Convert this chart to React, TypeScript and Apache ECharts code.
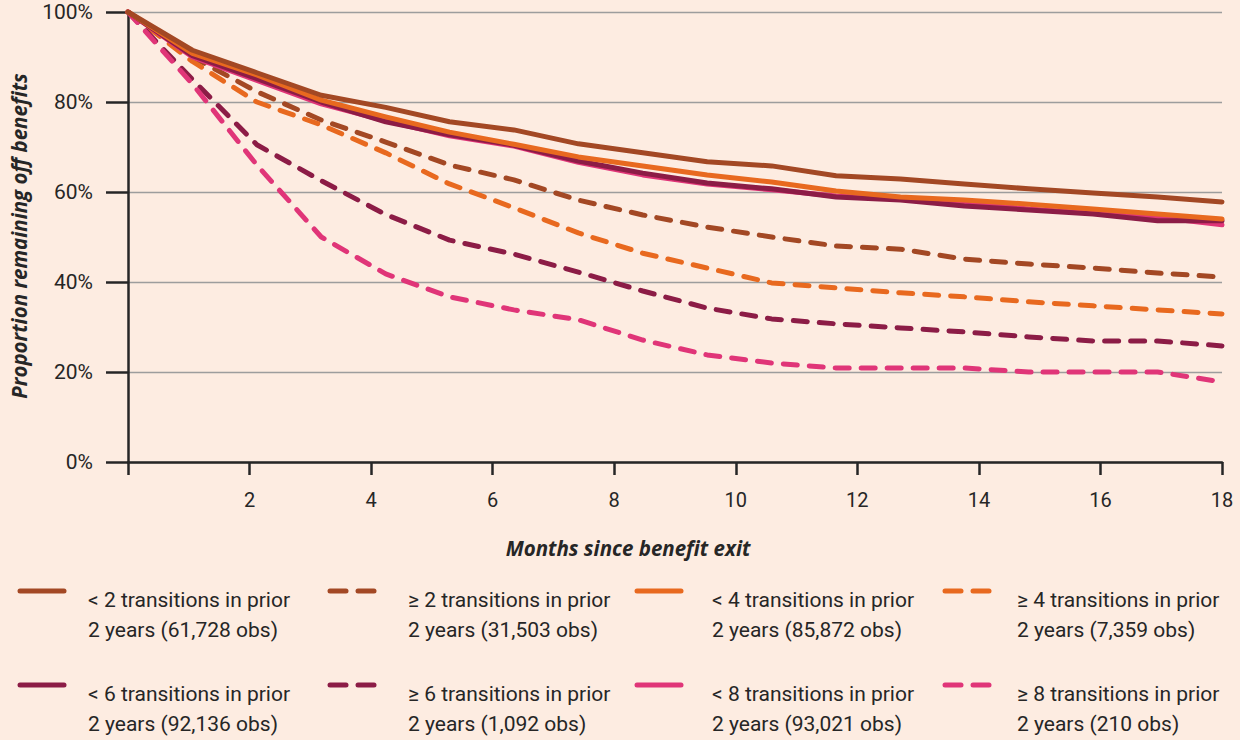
import { useEffect, useRef } from "react";
import * as echarts from "echarts";

const months = [0, 1.06, 2.12, 3.18, 4.24, 5.29, 6.35, 7.41, 8.47, 9.53, 10.59, 11.65, 12.71, 13.76, 14.82, 15.88, 16.94, 18];

const lt2 = [100, 91.5, 86.5, 81.5, 78.8, 75.6, 73.8, 70.7, 68.7, 66.7, 65.8, 63.6, 62.9, 61.8, 60.7, 59.8, 58.9, 57.8];
const ge2 = [100, 90, 82.3, 76, 71.1, 66, 62.7, 58.2, 54.9, 52.2, 50, 48, 47.3, 45.1, 44, 43.1, 42, 41.1];
const lt4 = [100, 90.8, 86, 80.4, 76.7, 73.3, 70.6, 67.8, 65.8, 63.8, 62.2, 60.2, 58.9, 58.2, 57.3, 56.2, 55.1, 54];
const ge4 = [100, 89, 80, 74.9, 68.7, 61.8, 56.5, 50.9, 46.4, 43.1, 39.8, 38.7, 37.6, 36.7, 35.6, 34.7, 33.8, 32.9];
const lt6 = [100, 90.3, 85.2, 80, 75.6, 72.7, 70.4, 66.9, 64.2, 62, 60.7, 58.9, 58.2, 56.9, 56, 55.1, 53.6, 53.6];
const ge6 = [100, 85, 70.5, 62.5, 55, 49.3, 46.2, 42.2, 38, 34.2, 31.8, 30.7, 29.8, 28.9, 27.8, 26.9, 26.9, 25.8];
const lt8 = [100, 90, 84.8, 79.6, 75.8, 72.5, 70.2, 66.6, 63.8, 61.8, 60.5, 59.1, 58.5, 57.6, 56.2, 55.3, 54.4, 52.7];
const ge8 = [100, 84, 66, 50, 41.8, 36.7, 33.8, 31.6, 27.1, 23.8, 22, 20.9, 20.9, 20.9, 20, 20, 20, 17.8];

const yTicks = [0, 20, 40, 60, 80, 100];
const xTicks = [0, 2, 4, 6, 8, 10, 12, 14, 16, 18];

const BROWN = "#a34824";
const ORANGE = "#e8691f";
const MAROON = "#8c1c46";
const PINK = "#e03578";
const INK = "#262626";
const BG = "#fdece1";

const defs = [
  { name: "< 2 transitions in prior", sub: "2 years (61,728 obs)", data: lt2, color: BROWN, dashed: false, z: 8 },
  { name: "≥ 2 transitions in prior", sub: "2 years (31,503 obs)", data: ge2, color: BROWN, dashed: true, z: 4 },
  { name: "< 4 transitions in prior", sub: "2 years (85,872 obs)", data: lt4, color: ORANGE, dashed: false, z: 7 },
  { name: "≥ 4 transitions in prior", sub: "2 years (7,359 obs)", data: ge4, color: ORANGE, dashed: true, z: 4 },
  { name: "< 6 transitions in prior", sub: "2 years (92,136 obs)", data: lt6, color: MAROON, dashed: false, z: 6 },
  { name: "≥ 6 transitions in prior", sub: "2 years (1,092 obs)", data: ge6, color: MAROON, dashed: true, z: 4 },
  { name: "< 8 transitions in prior", sub: "2 years (93,021 obs)", data: lt8, color: PINK, dashed: false, z: 5 },
  { name: "≥ 8 transitions in prior", sub: "2 years (210 obs)", data: ge8, color: PINK, dashed: true, z: 4 },
];

const FONT = "Roboto, 'Noto Sans', sans-serif";
const TITLE_FONT = "'Open Sans', 'Noto Sans', sans-serif";

export default function App() {
  const ref = useRef<HTMLDivElement>(null);

  useEffect(() => {
    if (!ref.current) return;
    const chart = echarts.init(ref.current, undefined, { renderer: "svg" });

    const iconX = [18, 328, 635, 943];
    const textX = [88, 408, 712, 1017];
    const iconY = [591, 685];
    const textY = [585, 679];

    const legend: any[] = [];
    defs.forEach((d, i) => {
      const col = i % 4;
      const row = Math.floor(i / 4);
      const x0 = iconX[col];
      const y0 = iconY[row];
      const lineStyle = { stroke: d.color, lineWidth: 5, lineCap: "round" };
      if (d.dashed) {
        legend.push({ type: "line", shape: { x1: x0 + 2, y1: y0, x2: x0 + 18, y2: y0 }, style: lineStyle });
        legend.push({ type: "line", shape: { x1: x0 + 30, y1: y0, x2: x0 + 46, y2: y0 }, style: lineStyle });
      } else {
        legend.push({ type: "line", shape: { x1: x0 + 2, y1: y0, x2: x0 + 46, y2: y0 }, style: lineStyle });
      }
      legend.push({
        type: "text",
        x: textX[col],
        y: textY[row],
        style: {
          text: d.name + "\n" + d.sub,
          fontSize: 21,
          fontFamily: FONT,
          lineHeight: 30,
          fill: INK,
          verticalAlign: "top",
          align: "left",
        },
      });
    });

    chart.setOption({
      animation: false,
      backgroundColor: BG,
      grid: { left: 128, right: 18, top: 12, bottom: 278, containLabel: false },
      xAxis: {
        type: "value",
        min: xTicks[0],
        max: xTicks[xTicks.length - 1],
        interval: 2,
        axisLine: { show: true, lineStyle: { color: INK, width: 2.5 } },
        axisTick: { show: true, length: 13, lineStyle: { color: INK, width: 2.5 } },
        axisLabel: {
          margin: 28,
          fontSize: 20,
          fontFamily: FONT,
          color: INK,
          formatter: (v: number) => (v === 0 ? "" : String(v)),
        },
        splitLine: { show: false },
      },
      yAxis: {
        type: "value",
        min: yTicks[0],
        max: yTicks[yTicks.length - 1],
        interval: 20,
        axisLine: { show: true, lineStyle: { color: INK, width: 2.5 } },
        axisTick: { show: true, length: 22, lineStyle: { color: INK, width: 2.5 } },
        axisLabel: { margin: 35, fontSize: 21, fontFamily: FONT, color: INK, formatter: "{value}%" },
        splitLine: { show: true, lineStyle: { color: "#9d9d9d", width: 1.3 } },
      },
      series: defs.map((d) => ({
        name: d.name,
        type: "line",
        data: d.data.map((v, i) => [months[i], v]),
        showSymbol: false,
        symbol: "none",
        z: d.z,
        lineStyle: {
          color: d.color,
          width: 5,
          type: d.dashed ? [14, 12] : "solid",
          cap: "round",
          join: "round",
        },
      })),
      graphic: [
        {
          type: "text",
          x: 628,
          y: 548,
          style: {
            text: "Months since benefit exit",
            fontSize: 20.5,
            fontWeight: "bold",
            fontStyle: "italic",
            fontFamily: TITLE_FONT,
            fill: INK,
            align: "center",
            verticalAlign: "middle",
          },
        },
        {
          type: "text",
          x: 19,
          y: 236,
          rotation: Math.PI / 2,
          style: {
            text: "Proportion remaining off benefits",
            fontSize: 20.5,
            fontWeight: "bold",
            fontStyle: "italic",
            fontFamily: TITLE_FONT,
            fill: INK,
            align: "center",
            verticalAlign: "middle",
          },
        },
        ...legend,
      ],
    });

    return () => chart.dispose();
  }, []);

  return (
    <div
      ref={ref}
      style={{ position: "fixed", left: 0, top: 0, width: 1240, height: 740, background: BG }}
    />
  );
}
